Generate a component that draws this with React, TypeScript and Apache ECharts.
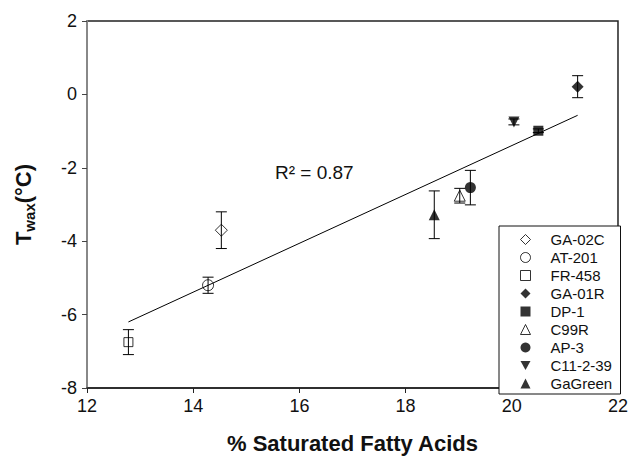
import React, { useEffect, useRef } from "react";
import * as echarts from "echarts";

const FONT = "'Liberation Sans', Arial, Helvetica, sans-serif";

// Cultivars, in legend order
const names = ["GA-02C", "AT-201", "FR-458", "GA-01R", "DP-1", "C99R", "AP-3", "C11-2-39", "GaGreen"];
// % saturated fatty acids
const satFA = [14.53, 14.28, 12.78, 21.24, 20.5, 19.02, 19.22, 20.04, 18.54];
// T_wax (°C)
const tWax = [-3.7, -5.2, -6.75, 0.21, -0.99, -2.76, -2.54, -0.75, -3.28];
// standard error (°C)
const errs = [0.5, 0.22, 0.34, 0.3, 0.05, 0.2, 0.47, 0.08, 0.65];
// marker shape, size and whether filled
const symbols = ["diamond", "circle", "rect", "diamond", "rect", "triangle", "circle", "path://M0,0L10,0L5,9Z", "triangle"];
const sizes = [12, 11, 9, 12, 10, 11, 11, 11, 11];
const legendSizes = [10, 9, 8, 10, 8, 9, 9, 9, 9];
const filled = [false, false, false, true, true, false, true, true, true];

// linear fit endpoints
const fitX = [12.78, 21.24];
const fitY = [-6.2, -0.57];
const r2Label = "R² = 0.87";

const xTicks = { min: 12, max: 22, interval: 2 };
const yTicks = { min: -8, max: 2, interval: 2 };

export default function App() {
  const ref = useRef<HTMLDivElement>(null);

  useEffect(() => {
    if (!ref.current) return;
    const chart = echarts.init(ref.current, null, { renderer: "svg" });

    const pointSeries = names.map((n, i) => ({
      name: n,
      type: "scatter",
      data: [[satFA[i], tWax[i]]],
      symbol: symbols[i],
      symbolSize: sizes[i],
      z: 4,
      itemStyle: filled[i]
        ? { color: "#000", borderColor: "#000", borderWidth: 0 }
        : { color: "rgba(255,255,255,0)", borderColor: "#000", borderWidth: 1 },
    }));

    const errData = names.map((_, i) => [satFA[i], tWax[i] - errs[i], tWax[i] + errs[i]]);

    chart.setOption({
      animation: false,
      grid: {
        left: 87,
        right: 11,
        top: 21,
        bottom: 65,
        show: true,
        borderColor: "#222",
        borderWidth: 1.5,
        backgroundColor: "transparent",
      },
      legend: {
        orient: "vertical",
        left: 520,
        top: 232,
        data: names.map((n, i) => ({
          name: n,
          icon: symbols[i],
          itemStyle: filled[i]
            ? { color: "#000", borderWidth: 0 }
            : { color: "#fff", borderColor: "#000", borderWidth: 1 },
        })),
        itemWidth: 10,
        itemHeight: 10,
        itemGap: 3,
        padding: 0,
        selectedMode: false,
        textStyle: { fontFamily: FONT, fontSize: 15, color: "#111", lineHeight: 15, padding: [0, 0, 0, 15] },
      },
      xAxis: {
        type: "value",
        min: xTicks.min,
        max: xTicks.max,
        interval: xTicks.interval,
        splitLine: { show: false },
        axisLine: { show: true, onZero: false, lineStyle: { color: "#222", width: 1.5 } },
        axisTick: { show: true, length: 5, lineStyle: { color: "#222" } },
        axisLabel: { fontFamily: FONT, fontSize: 18, color: "#111", margin: 9 },
        name: "% Saturated Fatty Acids",
        nameLocation: "middle",
        nameGap: 44,
        nameTextStyle: { fontFamily: FONT, fontSize: 22, fontWeight: "bold", color: "#111" },
      },
      yAxis: {
        type: "value",
        min: yTicks.min,
        max: yTicks.max,
        interval: yTicks.interval,
        splitLine: { show: false },
        axisLine: { show: true, onZero: false, lineStyle: { color: "#888", width: 2 } },
        axisTick: { show: true, length: 5, lineStyle: { color: "#444" } },
        axisLabel: { fontFamily: FONT, fontSize: 18, color: "#111", margin: 10 },
        name: "{t|T}{s|wax}{t|(°C)}",
        nameLocation: "middle",
        nameGap: 50,
        nameTextStyle: {
          fontFamily: FONT,
          color: "#111",
          rich: {
            t: { fontFamily: FONT, fontSize: 22, fontWeight: "bold", color: "#111" },
            s: { fontFamily: FONT, fontSize: 15, fontWeight: "bold", color: "#111", padding: [12, 0, 0, 0] },
          },
        },
      },
      graphic: [
        {
          type: "rect",
          shape: { x: 499, y: 226, width: 121.5, height: 168 },
          style: { fill: "#fff", stroke: "#111", lineWidth: 1 },
          z: 1,
          silent: true,
        },
        {
          type: "text",
          left: 275,
          top: 163,
          style: { text: r2Label, font: `19px ${FONT}`, fill: "#111" },
          z: 5,
        },
      ],
      series: [
        {
          name: "fit",
          type: "line",
          data: fitX.map((x, i) => [x, fitY[i]]),
          showSymbol: false,
          symbol: "none",
          lineStyle: { color: "#000", width: 1 },
          z: 3,
          silent: true,
        },
        {
          name: "err",
          type: "custom",
          data: errData,
          z: 3,
          renderItem: (params: any, api: any) => {
            const x = api.value(0);
            const lo = api.coord([x, api.value(1)]);
            const hi = api.coord([x, api.value(2)]);
            const cap = 5.5;
            const style = { stroke: "#000", lineWidth: 1 };
            return {
              type: "group",
              children: [
                { type: "line", shape: { x1: lo[0], y1: lo[1], x2: hi[0], y2: hi[1] }, style },
                { type: "line", shape: { x1: lo[0] - cap, y1: lo[1], x2: lo[0] + cap, y2: lo[1] }, style },
                { type: "line", shape: { x1: hi[0] - cap, y1: hi[1], x2: hi[0] + cap, y2: hi[1] }, style },
              ],
            };
          },
        },
        ...pointSeries,
      ],
    });

    return () => chart.dispose();
  }, []);

  return <div ref={ref} style={{ width: 631, height: 459, position: "absolute", left: 0, top: 0 }} />;
}
